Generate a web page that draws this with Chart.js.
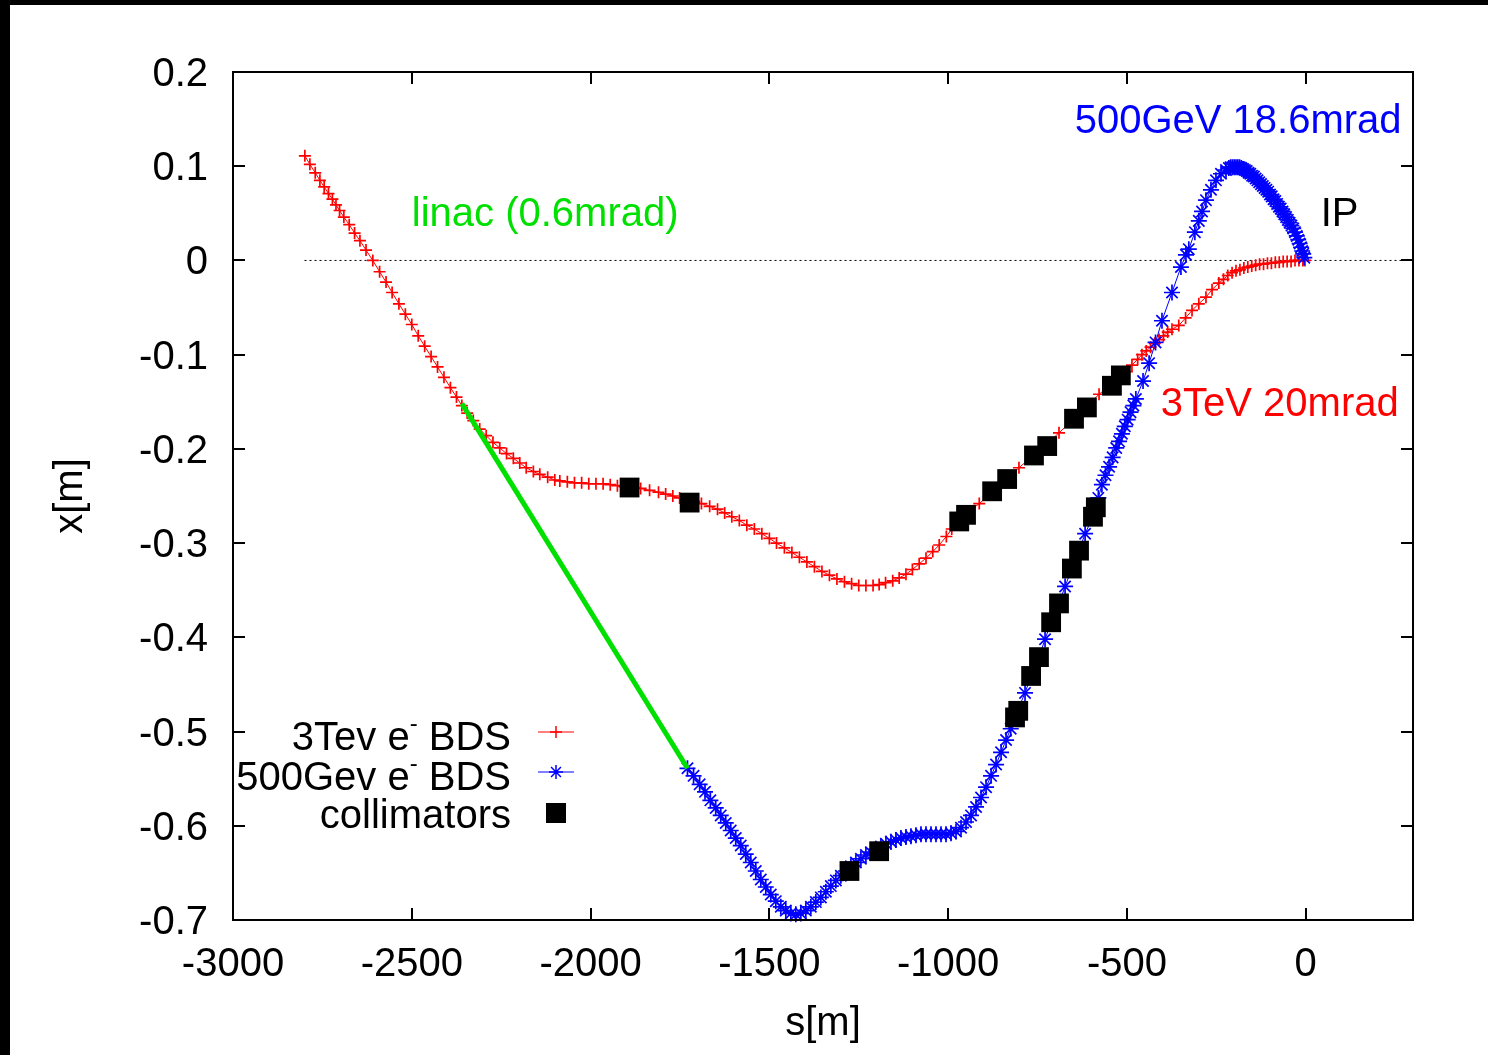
<!DOCTYPE html>
<html>
<head>
<meta charset="utf-8">
<script src="https://cdn.jsdelivr.net/npm/chart.js@4.4.0/dist/chart.umd.min.js"></script>
<style>
  html,body{margin:0;padding:0;background:#fff;}
  #wrap{position:relative;width:1488px;height:1055px;}
</style>
</head>
<body>
<div id="wrap"><canvas id="c" width="1488" height="1055"></canvas></div>
<script>
// ---- data: s[m] and x[m] ----
const sRed = [-2799,-2785,-2770,-2757,-2745,-2733,-2722,-2712,-2702,-2690,-2675,-2660,-2645,-2628,-2609,-2590,-2572,-2555,-2536,-2518,-2500,-2482,-2464,-2446,-2428,-2410,-2392,-2375,-2360,
  -2345,-2328,-2310,-2292,-2273,-2254,-2235,-2216,-2198,-2180,-2160,-2142,-2120,-2100,-2086,-2065,-2045,-2025,-2005,-1985,-1965,-1945,-1925,-1905,
  -1880,-1860,-1835,-1810,-1790,-1770,-1751,-1730,-1710,-1690,-1667,-1645,-1625,-1605,-1584,-1563,-1542,-1521,-1500,-1480,-1458,-1437,-1416,-1395,-1374,-1353,-1332,-1311,-1290,-1270,-1250,-1230,-1210,-1193,-1175,-1155,-1137,-1118,-1100,-1081,-1062,-1043,-1025,
  -1005,-990,-961,-913,-857,-802,-746,-690,-634,-578,-528,
  -500,-486,-470,-458,-446,-434,-422,-410,-398,-386,-374,-355,-336,-318,-299,-279,-262,-243,-230,-218,-206,-195,-184,-173,-162,-151,-140,-129,-118,-107,-96,-85,-74,-63,-52,-41,-30,-19,-8,-2];
const xRed = [0.111,0.102,0.093,0.085,0.078,0.071,0.065,0.059,0.053,0.046,0.038,0.029,0.021,0.011,0.000,-0.012,-0.023,-0.034,-0.046,-0.057,-0.068,-0.080,-0.091,-0.102,-0.113,-0.124,-0.135,-0.145,-0.154,
  -0.162,-0.170,-0.179,-0.186,-0.193,-0.199,-0.205,-0.210,-0.215,-0.220,-0.224,-0.227,-0.230,-0.233,-0.234,-0.235,-0.236,-0.236,-0.237,-0.237,-0.237,-0.238,-0.239,-0.240,
  -0.241,-0.242,-0.244,-0.246,-0.248,-0.250,-0.252,-0.254,-0.256,-0.258,-0.261,-0.264,-0.268,-0.272,-0.276,-0.281,-0.285,-0.290,-0.295,-0.300,-0.305,-0.310,-0.315,-0.320,-0.325,-0.330,-0.334,-0.338,-0.341,-0.343,-0.345,-0.345,-0.345,-0.344,-0.342,-0.340,-0.337,-0.333,-0.328,-0.322,-0.316,-0.309,-0.302,
  -0.293,-0.285,-0.272,-0.258,-0.240,-0.220,-0.202,-0.183,-0.163,-0.142,-0.127,
  -0.118,-0.111,-0.105,-0.100,-0.096,-0.092,-0.088,-0.084,-0.080,-0.076,-0.073,-0.069,-0.061,-0.053,-0.046,-0.039,-0.031,-0.024,-0.020,-0.016,-0.013,-0.011,-0.010,-0.008,-0.007,-0.006,-0.005,-0.004,-0.004,-0.003,-0.003,-0.002,-0.002,-0.001,-0.001,-0.001,0.000,0.000,0.000,0.000];

const sBlue = [-1729,-1712,-1695,-1680,-1665,-1650,-1636,-1622,-1608,-1594,-1580,-1566,-1552,-1538,-1524,-1510,-1496,-1482,-1468,-1454,-1440,-1426,-1412,-1398,-1384,-1370,-1356,-1342,-1328,-1314,-1300,-1286,-1272,-1258,-1244,-1230,-1216,-1202,-1188,-1174,-1160,-1146,-1132,-1118,-1104,-1090,-1076,-1062,-1048,-1034,-1020,-1006,-992,-978,-964,-950,-936,-922,-908,-894,-880,-866,-852,-838,-825,
  -810,-785,-768,-746,-729,-712,-690,-673,-654,-634,-617,-595,-580,-570,-560,-550,-540,-530,-522,-514,-506,-498,-490,-482,-475,-455,-438,-420,-402,-374,-349,-335,-327,-310,
  -299,-290,-279,-265,-251,-237,-223,
  -215,-210,-205,-200,-195,-190,-185,-180,-175,-170,-165,-160,-155,-150,-145,-140,-135,-130,-125,-120,-115,-110,-105,-100,-95,-90,-85,-80,-75,-70,-65,-60,-55,-50,-45,-40,-35,-30,-25,-21,-17,-13,-10,-7,-4];
const xBlue = [-0.539,-0.547,-0.556,-0.564,-0.573,-0.581,-0.589,-0.597,-0.605,-0.613,-0.621,-0.630,-0.639,-0.648,-0.657,-0.665,-0.673,-0.680,-0.686,-0.690,-0.693,-0.694,-0.693,-0.690,-0.686,-0.681,-0.676,-0.670,-0.664,-0.658,-0.653,-0.648,-0.643,-0.639,-0.635,-0.631,-0.628,-0.625,-0.622,-0.619,-0.617,-0.615,-0.613,-0.612,-0.611,-0.610,-0.609,-0.609,-0.609,-0.609,-0.609,-0.609,-0.608,-0.606,-0.602,-0.596,-0.589,-0.580,-0.570,-0.559,-0.547,-0.535,-0.522,-0.509,-0.497,
  -0.481,-0.459,-0.441,-0.421,-0.402,-0.384,-0.364,-0.346,-0.327,-0.308,-0.290,-0.272,-0.252,-0.238,-0.228,-0.219,-0.209,-0.199,-0.192,-0.184,-0.176,-0.169,-0.161,-0.154,-0.147,-0.128,-0.109,-0.087,-0.064,-0.034,-0.007,0.006,0.012,0.030,
  0.042,0.052,0.064,0.075,0.085,0.092,0.096,
  0.098,0.099,0.099,0.099,0.099,0.099,0.099,0.098,0.097,0.096,0.095,0.093,0.092,0.090,0.089,0.087,0.085,0.083,0.081,0.079,0.077,0.075,0.073,0.070,0.068,0.065,0.063,0.060,0.057,0.055,0.052,0.049,0.046,0.043,0.040,0.037,0.034,0.030,0.026,0.022,0.018,0.014,0.010,0.007,0.003];

const sColl = [-1891,-1723,-969,-950,-877,-835,-760,-723,-648,-612,-542,-517,
  -1276,-1193,-813,-804,-768,-746,-712,-690,-654,-634,-595,-587];
const xColl = [-0.241,-0.257,-0.277,-0.270,-0.245,-0.232,-0.207,-0.197,-0.168,-0.156,-0.133,-0.122,
  -0.648,-0.627,-0.485,-0.478,-0.441,-0.421,-0.384,-0.364,-0.327,-0.308,-0.272,-0.262];

const sLinac = [-2360,-1729];
const xLinac = [-0.152,-0.539];

const sZero = [-2800,300];
const xZero = [0,0];

const xTicks = [-3000,-2500,-2000,-1500,-1000,-500,0];
const yTicks = [0.2,0.1,0,-0.1,-0.2,-0.3,-0.4,-0.5,-0.6,-0.7];

const pts = (s, x) => s.map((v, i) => ({ x: v, y: x[i] }));

const FONT = '"Liberation Sans", Arial, sans-serif';
const RED = '#ff0000', BLUE = '#0000ff', GREEN = '#00e000';
const DY = 3; // canvas 'middle' sits a bit above the cap centre

// text placed in data coordinates
const notes = [
  { text:'500GeV 18.6mrad', s:268, x:0.150, color:BLUE, align:'right' },
  { text:'IP', s:42, x:0.051, color:'#000', align:'left' },
  { text:'linac (0.6mrad)', s:-2500, x:0.051, color:GREEN, align:'left' },
  { text:'3TeV 20mrad', s:260, x:-0.150, color:RED, align:'right' }
];

const framePlugin = {
  id:'frame',
  beforeDraw(chart){
    const ctx = chart.ctx;
    ctx.save();
    ctx.fillStyle = '#fff';
    ctx.fillRect(0, 0, chart.width, chart.height);
    ctx.fillStyle = '#000';
    ctx.fillRect(0, 0, 10, chart.height);
    ctx.fillRect(0, 0, chart.width, 5);
    ctx.restore();
  },
  afterDraw(chart){
    const { ctx, chartArea:a, scales:{ x, y } } = chart;
    ctx.save();
    // border + inward ticks on all sides
    ctx.strokeStyle = '#000';
    ctx.lineWidth = 2;
    ctx.strokeRect(a.left, a.top, a.right - a.left, a.bottom - a.top);
    ctx.beginPath();
    xTicks.forEach(v => {
      const p = Math.round(x.getPixelForValue(v));
      ctx.moveTo(p, a.bottom); ctx.lineTo(p, a.bottom - 12);
      ctx.moveTo(p, a.top); ctx.lineTo(p, a.top + 12);
    });
    yTicks.forEach(v => {
      const p = Math.round(y.getPixelForValue(v));
      ctx.moveTo(a.left, p); ctx.lineTo(a.left + 12, p);
      ctx.moveTo(a.right, p); ctx.lineTo(a.right - 12, p);
    });
    ctx.stroke();

    ctx.font = '40px ' + FONT;
    ctx.textBaseline = 'middle';
    notes.forEach(n => {
      ctx.fillStyle = n.color;
      ctx.textAlign = n.align;
      ctx.fillText(n.text, x.getPixelForValue(n.s), y.getPixelForValue(n.x) + DY);
    });

    // axis titles
    ctx.fillStyle = '#000';
    ctx.textAlign = 'center';
    ctx.fillText('s[m]', (a.left + a.right) / 2, 1024);
    ctx.save();
    ctx.translate(71, (a.top + a.bottom) / 2);
    ctx.rotate(-Math.PI / 2);
    ctx.fillText('x[m]', 0, 0);
    ctx.restore();

    // legend (gnuplot style: text right-aligned, sample to the right)
    const rows = [
      { parts:[['3Tev e',40,0],['-',24,-15],[' BDS',40,0]], ty:739, sy:732, kind:'red' },
      { parts:[['500Gev e',40,0],['-',24,-15],[' BDS',40,0]], ty:779, sy:772, kind:'blue' },
      { parts:[['collimators',40,0]], ty:817, sy:813, kind:'coll' }
    ];
    const textRight = 511, sx = 556;
    rows.forEach(r => {
      let w = 0;
      r.parts.forEach(p => { ctx.font = p[1] + 'px ' + FONT; w += ctx.measureText(p[0]).width; });
      let cx = textRight - w;
      ctx.textAlign = 'left';
      ctx.fillStyle = '#000';
      r.parts.forEach(p => {
        ctx.font = p[1] + 'px ' + FONT;
        ctx.fillText(p[0], cx, r.ty + p[2]);
        cx += ctx.measureText(p[0]).width;
      });
      if (r.kind === 'coll') {
        ctx.fillStyle = '#000';
        ctx.fillRect(sx - 10, r.sy - 10, 20, 20);
        return;
      }
      const col = r.kind === 'red' ? RED : BLUE;
      ctx.strokeStyle = col;
      ctx.lineWidth = 1;
      ctx.beginPath();
      ctx.moveTo(538, r.sy); ctx.lineTo(574, r.sy);
      ctx.stroke();
      ctx.lineWidth = 1.5;
      Chart.helpers.drawPoint(ctx, { pointStyle: r.kind === 'red' ? 'cross' : 'star', radius: r.kind === 'red' ? 6 : 7, borderWidth: 1.5 }, sx, r.sy);
    });
    ctx.restore();
  }
};

Chart.defaults.font.family = FONT;
Chart.defaults.font.size = 40;
Chart.defaults.color = '#000';

new Chart(document.getElementById('c'), {
  type:'scatter',
  data:{
    datasets:[
      { label:'collimators', data:pts(sColl, xColl), showLine:false, pointStyle:'rect', pointRadius:14,
        backgroundColor:'#000', borderColor:'#000', borderWidth:0, clip:false },
      { label:'linac', data:pts(sLinac, xLinac), showLine:true, pointRadius:0, borderColor:GREEN, borderWidth:5, clip:false },
      { label:'500Gev e- BDS', data:pts(sBlue, xBlue), showLine:true, borderColor:BLUE, borderWidth:1,
        pointStyle:'star', pointRadius:8, pointBorderWidth:1.7, pointBorderColor:BLUE, pointBackgroundColor:BLUE, clip:false },
      { label:'3Tev e- BDS', data:pts(sRed, xRed), showLine:true, borderColor:RED, borderWidth:1,
        pointStyle:'cross', pointRadius:6, pointBorderWidth:1.7, pointBorderColor:RED, pointBackgroundColor:RED, clip:false },
      { label:'zero', data:pts(sZero, xZero), showLine:true, pointRadius:0, borderColor:'#000', borderWidth:1, borderDash:[2,3] }
    ]
  },
  options:{
    responsive:false,
    animation:false,
    events:[],
    layout:{ padding:{ left:0, top:72, right:75, bottom:0 } },
    plugins:{ legend:{ display:false }, tooltip:{ enabled:false } },
    scales:{
      x:{
        type:'linear', min:-3000, max:300,
        grid:{ display:false, drawTicks:false },
        border:{ display:false },
        afterBuildTicks: s => { s.ticks = xTicks.map(v => ({ value:v })); },
        afterFit: s => { s.height = 135; },
        ticks:{ padding:21, maxRotation:0, autoSkip:false, color:'#000', callback: v => String(v) }
      },
      y:{
        type:'linear', min:-0.7, max:0.2,
        grid:{ display:false, drawTicks:false },
        border:{ display:false },
        afterBuildTicks: s => { s.ticks = yTicks.map(v => ({ value:v })); },
        afterFit: s => { s.width = 233; },
        ticks:{ padding:25, labelOffset:3, autoSkip:false, color:'#000', callback: v => v === 0 ? '0' : v.toFixed(1) }
      }
    }
  },
  plugins:[framePlugin]
});
</script>
</body>
</html>
